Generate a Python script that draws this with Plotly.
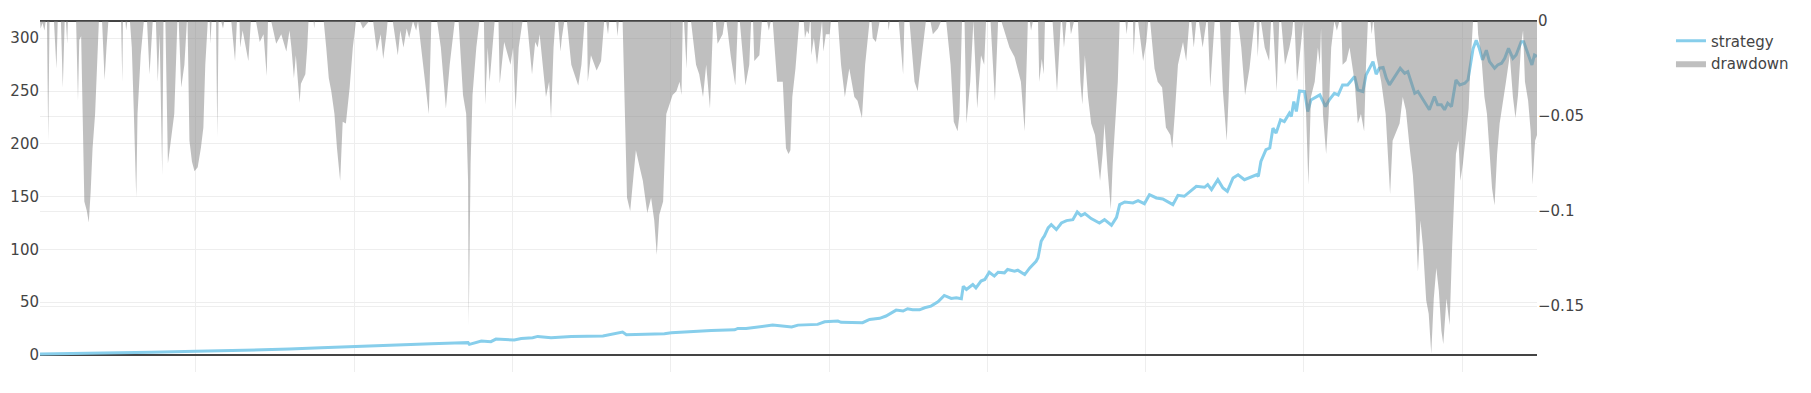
import plotly.graph_objects as go

# ---------------- data ----------------
strategy_day = [4, 60, 120, 180, 250, 300, 350, 398, 448, 501, 553, 622, 659, 680, 682, 701, 716, 724, 753, 764, 782, 790,
                811, 843, 893, 911, 924, 930, 948, 990, 1001, 1022, 1032, 1064, 1101, 1106, 1119, 1143, 1161, 1191,
                1201, 1232, 1243, 1264, 1269, 1303, 1314, 1330, 1340, 1356, 1367, 1374, 1382, 1393, 1401, 1411, 1422,
                1432, 1443, 1451, 1459, 1462, 1467, 1477, 1482, 1490, 1496, 1503, 1511, 1517, 1527, 1532, 1543, 1548,
                1559, 1567, 1577, 1580, 1583, 1585, 1588, 1590, 1596, 1601, 1609, 1617, 1625, 1635, 1642, 1648, 1654,
                1664, 1677, 1685, 1696, 1704, 1709, 1717, 1730, 1738, 1748, 1756, 1767, 1777, 1793, 1801, 1811, 1822,
                1830, 1843, 1848, 1854, 1864, 1872, 1879, 1888, 1896, 1906, 1917, 1925, 1928, 1932, 1940, 1946, 1951,
                1956, 1963, 1969, 1977, 1980, 1984, 1988, 1993, 2001, 2006, 2011, 2025, 2034, 2040, 2048, 2054, 2061,
                2069, 2075, 2080, 2085, 2093, 2098, 2109, 2114, 2119, 2125, 2130, 2135, 2143, 2152, 2159, 2164, 2175,
                2180, 2185, 2190, 2198, 2206, 2211, 2217, 2222, 2227, 2233, 2240, 2246, 2254, 2259, 2267, 2272, 2277,
                2282, 2288, 2293, 2301, 2306, 2312, 2317, 2323, 2330, 2335, 2343, 2347, 2354, 2360, 2364, 2368]
strategy_value = [1.0, 1.3, 1.8, 2.5, 3.5, 4.1, 5.0, 5.6, 6.9, 8.2, 9.1, 10.7, 11.3, 11.7, 10.1, 13.2, 12.6, 15.1, 14.2, 15.7, 16.4, 17.6,
                  16.4, 17.6, 18.0, 20.2, 21.7, 19.2, 19.5, 20.2, 21.1, 21.7, 22.7, 23.3, 23.9, 25.2, 25.2, 26.8, 28.3, 26.5,
                  28.3, 29.0, 31.5, 32.1, 30.9, 30.6, 33.7, 34.7, 36.9, 42.5, 41.6, 43.8, 42.8, 42.8, 44.7, 46.3, 50.4,
                  56.4, 53.6, 54.2, 53.2, 65.2, 62.0, 66.8, 63.6, 70.0, 71.5, 78.4, 74.7, 78.4, 77.8, 81.0, 79.4, 80.3,
                  76.2, 82.5, 88.8, 92.0, 99.9, 107.7, 110.9, 112.5, 120.3, 123.5, 118.8, 125.0, 127.3, 128.2, 135.5, 132.0, 133.9,
                  129.2, 125.0, 128.2, 122.9, 130.4, 142.4, 144.9, 144.0, 146.2, 143.3, 151.8, 148.7, 147.7, 142.4, 151.2, 150.3, 155.6,
                  159.7, 158.8, 161.3, 156.6, 166.0, 158.1, 155.0, 167.6, 170.7, 166.0, 168.5, 170.7, 169.2, 183.3, 194.4, 196.0, 214.8,
                  210.1, 222.7, 221.1, 229.0, 225.9, 240.0, 230.6, 250.0, 249.5, 230.6, 241.6, 246.3, 235.3, 241.6, 247.9, 246.3, 255.8,
                  255.8, 260.5, 263.7, 251.0, 249.5, 265.2, 277.8, 265.9, 271.6, 272.2, 262.1, 255.8, 263.7, 271.6, 266.8, 268.4, 247.9,
                  249.5, 244.8, 240.0, 232.2, 244.8, 236.9, 236.9, 232.2, 238.5, 235.3, 260.5, 255.8, 257.4, 260.5, 290.0, 298.1, 290.2,
                  279.4, 288.6, 277.8, 271.6, 274.7, 276.3, 281.0, 290.4, 281.0, 284.1, 296.7, 296.7, 284.1, 274.7, 284.1, 282.6]

drawdown_day = [
    4, 5, 8, 11, 13, 15, 17, 19, 26, 30, 32, 37, 40, 43, 45, 47, 48,
    61, 64, 66, 69, 72, 74, 78, 81, 84, 87, 91, 94, 97,
    102, 106, 109, 112, 132, 134, 135, 139, 140, 142,
    146, 149, 152, 156, 158, 163, 168, 173, 177, 182,
    187, 190, 193, 197, 199, 202, 206, 211, 216, 221, 223, 227, 232, 236,
    237, 240, 244, 248, 253, 258, 262, 265, 269, 272, 273, 275, 282, 284, 286, 290, 293, 295,
    306, 308, 312, 315, 319, 320, 324, 333, 337, 345, 351, 357, 362, 364,
    369, 377, 385, 393, 398, 401, 405, 408, 414, 416, 423, 426, 428, 436, 437, 438,
    452, 456, 460, 464, 469, 473, 478, 482, 487, 493, 498, 503,
    509, 514, 519, 524, 530, 536, 542, 546, 551, 553,
    561, 569, 573, 578, 583, 587, 593, 598, 601, 609, 614, 618, 622,
    631, 637, 645, 651, 654, 659,
    665, 672, 677, 680, 681, 683, 684, 687, 693, 698,
    705, 707, 711, 714, 722, 728, 730, 737, 747, 751, 755, 760, 764, 766,
    773, 777, 781, 786, 790, 793, 795, 803, 808, 811, 815, 818,
    822, 826, 828, 832, 836, 843, 848, 854, 859, 861, 864,
    868, 869, 874, 883, 890, 895, 898, 901, 903, 914, 916, 918,
    924, 928, 931, 936, 940, 945, 951, 956, 963, 969, 974, 978, 982, 988, 993, 998, 1003, 1009, 1014, 1017, 1019,
    1021, 1025, 1027, 1032, 1040, 1045, 1051, 1056, 1062, 1067,
    1071, 1074, 1082, 1085, 1088, 1095, 1102, 1106, 1109, 1118, 1124, 1127,
    1130, 1132, 1140, 1144, 1152, 1155, 1158,
    1161, 1168, 1177, 1182, 1186, 1189, 1192, 1197, 1203,
    1210, 1212, 1215, 1218, 1220, 1221, 1222, 1226, 1231, 1235, 1238,
    1239, 1241, 1245, 1251, 1253,
    1264, 1269, 1275, 1282, 1290, 1295, 1302, 1307, 1314,
    1317, 1319, 1324, 1330, 1343, 1344, 1346, 1360, 1367, 1369,
    1377, 1385, 1390, 1398, 1403, 1410, 1414, 1422, 1427,
    1435, 1442, 1447, 1453, 1456, 1460, 1464, 1467, 1473, 1477,
    1478, 1484, 1490, 1495, 1498, 1505, 1512, 1517,
    1522, 1535, 1543, 1553, 1559, 1564, 1567, 1569, 1572,
    1580, 1582, 1586, 1589, 1591, 1603, 1610, 1616, 1618, 1621, 1625, 1630, 1632, 1637,
    1643, 1647, 1650, 1654, 1659, 1664, 1670, 1675, 1678, 1682, 1685, 1690, 1695, 1698, 1702, 1706, 1709,
    1718, 1720, 1722, 1730, 1731, 1734, 1738, 1746, 1751, 1754,
    1757, 1764, 1769, 1776, 1782, 1789, 1792, 1796, 1801, 1809, 1814, 1819,
    1822, 1826, 1830, 1834, 1840, 1846, 1848, 1852, 1859,
    1867, 1872, 1878, 1881, 1885, 1896, 1901, 1907, 1914, 1922,
    1925, 1927, 1930, 1932, 1938, 1945, 1948, 1951, 1957, 1961,
    1964, 1970, 1977, 1981, 1983, 1985, 1989, 1995, 1998,
    1999, 2001, 2007, 2011, 2017, 2022, 2025, 2027, 2030, 2035, 2039, 2043, 2047,
    2048, 2052, 2056, 2059, 2061, 2067, 2072, 2080, 2085, 2090, 2095, 2098, 2101,
    2105, 2107, 2109,
    2110, 2114, 2122, 2129, 2133, 2136, 2140, 2146, 2151, 2156, 2161, 2167, 2172, 2176, 2180, 2184, 2188,
    2193, 2197, 2201, 2205, 2209, 2213, 2217, 2220, 2225, 2230, 2234, 2237, 2240, 2244, 2247, 2251, 2256,
    2260, 2263, 2267,
    2274, 2275, 2280, 2285, 2289, 2293, 2297, 2301, 2305, 2309, 2314, 2319, 2325, 2330, 2334, 2338, 2343,
    2346, 2349, 2354, 2358, 2361, 2365, 2368]
drawdown_value = [
    0, -0.004, -0.001, -0.005, 0, 0, -0.063, 0, 0, -0.025, 0, 0, -0.035, 0, 0, -0.012, 0,
    0, -0.042, -0.01, -0.008, -0.067, -0.095, -0.1, -0.106, -0.09, -0.067, -0.049, -0.023, 0,
    0, -0.031, -0.014, 0, 0, -0.032, 0, 0, -0.005, 0,
    0, -0.014, -0.046, -0.093, -0.049, -0.018, 0, 0, -0.028, 0,
    0, -0.032, -0.007, -0.081, 0, 0, -0.075, -0.063, -0.049, 0, 0, -0.035, -0.023, 0,
    0, -0.063, -0.074, -0.079, -0.077, -0.067, -0.056, -0.023, 0, 0, -0.012, 0, 0, -0.061, 0, 0, -0.004, 0,
    0, -0.007, -0.021, 0, 0, -0.014, -0.005, -0.021, 0, 0, -0.011, -0.007, -0.029, 0,
    0, -0.012, -0.007, -0.016, -0.005, -0.014, -0.03, -0.018, -0.043, -0.033, -0.028, -0.014, 0, 0, -0.004, 0,
    0, -0.014, -0.03, -0.037, -0.049, -0.067, -0.084, -0.053, -0.054, -0.035, -0.014, 0,
    0, -0.004, -0.002, 0, 0, -0.016, -0.007, -0.02, -0.007, 0,
    0, -0.018, -0.005, -0.014, -0.004, -0.009, 0, -0.005, 0, -0.023, -0.035, -0.049, 0,
    0, -0.014, -0.046, -0.023, -0.014, 0,
    0, -0.039, -0.049, -0.084, -0.16, -0.102, -0.075, -0.039, -0.014, 0,
    0, -0.044, -0.014, -0.032, 0, 0, -0.033, -0.011, -0.023, -0.014, -0.047, -0.014, -0.004, 0,
    0, -0.014, -0.028, -0.011, -0.014, -0.007, -0.014, -0.04, -0.032, -0.051, -0.014, 0,
    0, -0.016, -0.009, 0, 0, -0.023, -0.028, -0.034, -0.023, -0.014, 0,
    0, -0.032, -0.018, -0.026, -0.021, 0, 0, -0.007, 0, 0, -0.008, 0,
    0, -0.058, -0.093, -0.1, -0.084, -0.068, -0.077, -0.084, -0.101, -0.093, -0.105, -0.123, -0.102, -0.095, -0.049, -0.044, -0.039, -0.037, -0.032, -0.039, 0,
    0, -0.025, 0, 0, -0.023, -0.028, -0.04, -0.023, -0.046, 0,
    0, -0.012, -0.007, 0, 0, -0.019, -0.034, 0, 0, -0.034, -0.023, 0,
    0, -0.021, -0.018, 0, 0, -0.005, 0,
    0, -0.032, -0.032, -0.067, -0.07, -0.068, -0.04, -0.025, 0,
    0, -0.009, -0.005, -0.007, 0, 0, -0.018, -0.009, -0.023, -0.011, 0,
    0, -0.016, -0.007, -0.007, 0,
    0, -0.023, -0.04, -0.025, -0.04, -0.042, -0.051, -0.023, 0,
    0, -0.009, -0.011, 0, 0, -0.005, 0, 0, -0.028, 0,
    0, -0.032, -0.037, -0.014, 0, 0, -0.007, -0.004, 0,
    0, -0.023, -0.053, -0.058, -0.049, 0, 0, -0.054, -0.032, 0,
    0, -0.046, -0.018, -0.023, 0, 0, -0.042, 0,
    0, -0.014, -0.019, -0.032, -0.058, 0, 0, -0.005, 0,
    0, -0.032, -0.02, -0.028, 0, 0, -0.037, 0, 0, -0.014, 0, 0, -0.007, 0,
    0, -0.032, -0.044, -0.018, -0.04, -0.054, -0.06, -0.077, -0.084, -0.07, -0.054, -0.079, -0.099, -0.075, -0.054, -0.032, 0,
    0, -0.007, 0, 0, -0.018, 0, 0, -0.021, -0.011, 0,
    0, -0.025, -0.032, -0.035, -0.056, -0.06, -0.067, -0.049, -0.023, -0.011, -0.021, 0,
    0, -0.014, 0, 0, -0.014, 0, 0, -0.035, 0,
    0, -0.037, -0.063, -0.04, 0, 0, -0.014, -0.039, -0.025, 0,
    0, -0.019, 0, 0, -0.014, -0.021, 0, 0, -0.037, 0,
    0, -0.023, -0.014, -0.007, 0, 0, -0.032, -0.012, 0,
    0, -0.025, -0.086, -0.04, -0.032, -0.014, -0.023, -0.004, -0.049, -0.07, -0.049, -0.014, 0,
    0, -0.005, 0, 0, -0.023, -0.021, -0.014, -0.032, -0.054, -0.049, -0.058, -0.023, 0,
    0, -0.007, 0,
    0, -0.018, -0.032, -0.049, -0.075, -0.091, -0.063, -0.058, -0.054, -0.04, -0.047, -0.067, -0.081, -0.102, -0.132, -0.105, -0.119,
    -0.147, -0.154, -0.175, -0.146, -0.13, -0.142, -0.163, -0.17, -0.146, -0.16, -0.119, -0.093, -0.07, -0.063, -0.084, -0.075, -0.058,
    -0.046, -0.023, 0,
    0, -0.007, -0.018, -0.04, -0.049, -0.07, -0.088, -0.097, -0.07, -0.054, -0.044, -0.032, -0.018, -0.04, -0.051, -0.039, -0.012,
    -0.005, -0.032, -0.042, -0.058, -0.086, -0.063, -0.06]

assert len(strategy_day) == len(strategy_value)
assert len(drawdown_day) == len(drawdown_value)

FONT = "Verdana, DejaVu Sans, sans-serif"

fig = go.Figure()
fig.add_trace(go.Scatter(
    x=strategy_day, y=strategy_value, name="strategy", mode="lines",
    line=dict(color="skyblue", width=3), yaxis="y"))
fig.add_trace(go.Scatter(
    x=drawdown_day, y=drawdown_value, name="drawdown", mode="lines",
    fill="tozeroy", fillcolor="rgba(128,128,128,0.5)",
    line=dict(width=0, color="rgba(128,128,128,0.5)"), yaxis="y2"))

fig.update_layout(
    template="none",
    width=1811, height=393,
    margin=dict(l=40, r=274, t=21, b=21),
    paper_bgcolor="white", plot_bgcolor="white",
    font=dict(family=FONT, size=15, color="#444"),
    showlegend=True,
    legend=dict(x=1.0895, y=0.99, xanchor="left", yanchor="top",
                font=dict(family=FONT, size=15, color="#444"), bgcolor="rgba(0,0,0,0)"),
    xaxis=dict(range=[4, 2368], tick0=0, dtick=250, showticklabels=False,
               showgrid=True, gridcolor="#eee", gridwidth=1, zeroline=False,
               showline=False, ticks=""),
    yaxis=dict(range=[-16.1, 316.3], dtick=50, showgrid=True, gridcolor="#eee",
               zeroline=True, zerolinecolor="#444", zerolinewidth=2,
               showline=False, ticks=""),
    yaxis2=dict(range=[-0.1847, 0], dtick=0.05, overlaying="y", side="right",
                showgrid=True, gridcolor="#eee", zeroline=True, zerolinecolor="#444",
                zerolinewidth=2, showline=False, ticks=""),
)

fig.write_html("out.html")
